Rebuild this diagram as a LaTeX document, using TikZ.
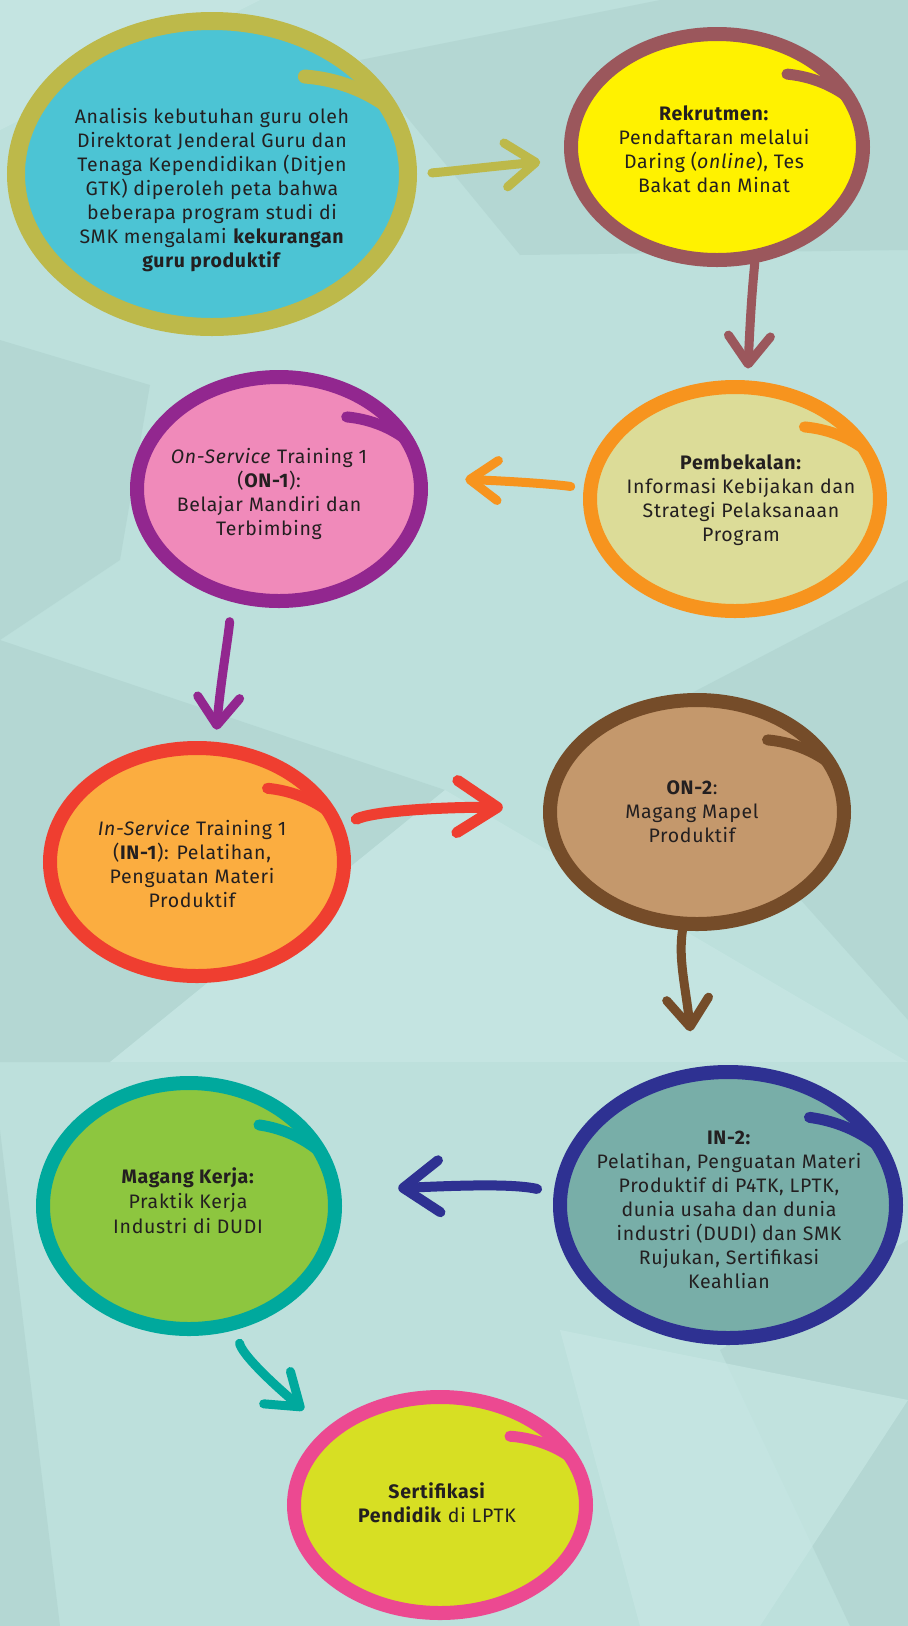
\documentclass[tikz,border=0pt]{standalone}
\usepackage{fontspec}
\setmainfont{Fira Sans}[LetterSpace=3.5]
\usetikzlibrary{shapes.geometric,arrows.meta,bending}
\definecolor{bg}{RGB}{189,224,220}
\definecolor{bgdark}{RGB}{174,210,206}
\definecolor{bglight}{RGB}{199,231,228}
\definecolor{ink}{RGB}{35,31,32}
\definecolor{fA}{RGB}{76,196,212}\definecolor{rA}{RGB}{189,185,74}
\definecolor{fB}{RGB}{255,242,0}\definecolor{rB}{RGB}{155,87,92}
\definecolor{fC}{RGB}{220,220,152}\definecolor{rC}{RGB}{247,148,30}
\definecolor{fD}{RGB}{240,138,186}\definecolor{rD}{RGB}{146,39,143}
\definecolor{fE}{RGB}{251,173,64}\definecolor{rE}{RGB}{239,62,48}
\definecolor{fF}{RGB}{196,152,108}\definecolor{rF}{RGB}{117,76,41}
\definecolor{fG}{RGB}{120,174,168}\definecolor{rG}{RGB}{46,49,146}
\definecolor{fH}{RGB}{141,198,63}\definecolor{rH}{RGB}{0,169,157}
\definecolor{fI}{RGB}{215,223,35}\definecolor{rI}{RGB}{236,73,145}
% tail of the brush stroke: cx cy rx ry colour width inset
\newcommand\brushtail[7]{%
  \draw[#5, line width=#6, line cap=round] plot[domain=55:26, samples=25, smooth]
    ({#1+(#3-#7*(\x-26)/29)*cos(\x)}, {#2-(#4-#7*(\x-26)/29)*sin(\x)});}
\begin{document}
\begin{tikzpicture}[x=1pt,y=-1pt,
  bubble/.style={ellipse, inner sep=0pt, line width=14pt},
  txt/.style={align=center, text=ink, font=\fontsize{19.5}{24}\selectfont, inner sep=0pt},
  arr/.style={line width=9pt, line cap=round},
  facet/.style={fill=bgdark, fill opacity=0.6},
  facetl/.style={fill=bglight, fill opacity=0.7}]
\useasboundingbox (0,0) rectangle (908,1626);
\fill[bg] (0,0) rectangle (908,1626);
% background facets
\fill[facetl] (0,0) -- (260,0) -- (0,130) -- cycle;
\fill[facet] (360,60) -- (660,0) -- (908,0) -- (908,250) -- (520,255) -- cycle;
\fill[facet] (0,340) -- (150,385) -- (120,560) -- (0,640) -- cycle;
\fill[facet] (0,640) -- (445,790) -- (110,1062) -- (0,1062) -- cycle;
\fill[facet] (908,580) -- (908,1020) -- (640,720) -- cycle;
\fill[facetl] (445,790) -- (908,1062) -- (110,1062) -- cycle;
\fill[facet] (0,1130) -- (60,1626) -- (0,1626) -- cycle;
\fill[facet] (908,1240) -- (908,1626) -- (850,1626) -- (720,1350) -- cycle;
\fill[facetl] (560,1330) -- (908,1400) -- (760,1626) -- (640,1626) -- cycle;

% bubbles
\node[bubble, line width=18pt, draw=rA, fill=fA, minimum width=392pt, minimum height=306pt] (e1) at (212,174) {};
\brushtail{212}{174}{196}{153}{rA}{14pt}{34}
\node[bubble, draw=rB, fill=fB, minimum width=292pt, minimum height=226pt] (e2) at (717,147) {};
\brushtail{717}{147}{146}{113}{rB}{11pt}{24}
\node[bubble, draw=rC, fill=fC, minimum width=290pt, minimum height=224pt] (e3) at (735,499) {};
\brushtail{735}{499}{145}{112}{rC}{11pt}{24}
\node[bubble, draw=rD, fill=fD, minimum width=284pt, minimum height=224pt] (e4) at (279,489) {};
\brushtail{279}{489}{142}{112}{rD}{11pt}{24}
\node[bubble, draw=rE, fill=fE, minimum width=294pt, minimum height=228pt] (e5) at (197,862) {};
\brushtail{197}{862}{147}{114}{rE}{11pt}{24}
\node[bubble, draw=rF, fill=fF, minimum width=294pt, minimum height=224pt] (e6) at (697,812) {};
\brushtail{697}{812}{147}{112}{rF}{11pt}{24}
\node[bubble, draw=rG, fill=fG, minimum width=336pt, minimum height=266pt] (e7) at (728,1205) {};
\brushtail{728}{1205}{168}{133}{rG}{11pt}{26}
\node[bubble, draw=rH, fill=fH, minimum width=292pt, minimum height=246pt] (e8) at (189,1206) {};
\brushtail{189}{1206}{146}{123}{rH}{11pt}{24}
\node[bubble, draw=rI, fill=fI, minimum width=292pt, minimum height=216pt] (e9) at (440,1505) {};
\brushtail{440}{1505}{146}{108}{rI}{11pt}{24}

% texts
\node[txt] (t1) at (212,190) {Analisis kebutuhan guru oleh\\Direktorat Jenderal Guru dan\\Tenaga Kependidikan (Ditjen\\GTK) diperoleh peta bahwa\\beberapa program studi di\\SMK mengalami \textbf{kekurangan}\\\textbf{guru produktif}};
\node[txt] (t2) at (714,149) {\textbf{Rekrutmen:}\\Pendaftaran melalui\\Daring (\textit{online}), Tes\\Bakat dan Minat};
\node[txt] (t3) at (741,500) {\textbf{Pembekalan:}\\Informasi Kebijakan dan\\Strategi Pelaksanaan\\Program};
\node[txt] (t4) at (269,494) {\textit{On-Service} Training 1\\(\textbf{ON-1}):\\Belajar Mandiri dan\\Terbimbing};
\node[txt] (t5) at (192,864) {\textit{In-Service} Training 1\\(\textbf{IN-1}): Pelatihan,\\Penguatan Materi\\Produktif};
\node[txt] (t6) at (692,812) {\textbf{ON-2}:\\Magang Mapel\\Produktif};
\node[txt] (t7) at (729,1210) {\textbf{IN-2:}\\Pelatihan, Penguatan Materi\\Produktif di P4TK, LPTK,\\dunia usaha dan dunia\\industri (DUDI) dan SMK\\Rujukan, Sertifikasi\\Keahlian};
\node[txt, font=\fontsize{19.5}{25}\selectfont] (t8) at (188,1201) {\textbf{Magang Kerja:}\\Praktik Kerja\\Industri di DUDI};
\node[txt] (t9) at (437,1503) {\textbf{Sertifikasi}\\\textbf{Pendidik} di LPTK};

% arrows
\draw[arr, rA, -{Straight Barb[length=30pt,width=44pt,round]}, shorten <=15pt, shorten >=23pt]
  (e1.0) .. controls +(40,-3) and +(-40,2) .. (e2.185);
\draw[arr, rB, -{Straight Barb[length=28pt,width=42pt,round]}, shorten >=12pt]
  (e2.288) .. controls +(-4,40) and +(2,-45) .. (e3.84);
\draw[arr, rC, -{Straight Barb[length=28pt,width=40pt,round]}, shorten <=13pt, shorten >=33pt]
  (e3.176) .. controls +(-40,-6) and +(40,0) .. (e4.4);
\draw[arr, rD, -{Straight Barb[length=28pt,width=42pt,round]}, shorten <=20pt, shorten >=12pt]
  (e4.247) .. controls +(-3,40) and +(1,-40) .. (e5.81);
\draw[arr, rE, line width=11pt, -{Straight Barb[length=40pt,width=52pt,round]}, shorten <=14pt, shorten >=33pt]
  (e5.14) .. controls +(40,-20) and +(-45,-4) .. (e6.179);
\draw[arr, rF, -{Straight Barb[length=28pt,width=42pt,round]}, shorten >=39pt]
  (e6.263) .. controls +(-6,40) and +(2,-60) .. (e7.105);
\draw[arr, rG, line width=10pt, -{Straight Barb[length=36pt,width=52pt,round]}, shorten <=17pt, shorten >=52pt]
  (e7.176) .. controls +(-60,-14) and +(60,0) .. (e8.6);
\draw[arr, rH, -{Straight Barb[length=30pt,width=42pt,round]}, shorten <=14pt, shorten >=27pt]
  (e8.291) .. controls +(8,35) and +(-30,-25) .. (e9.146);
\end{tikzpicture}
\end{document}
